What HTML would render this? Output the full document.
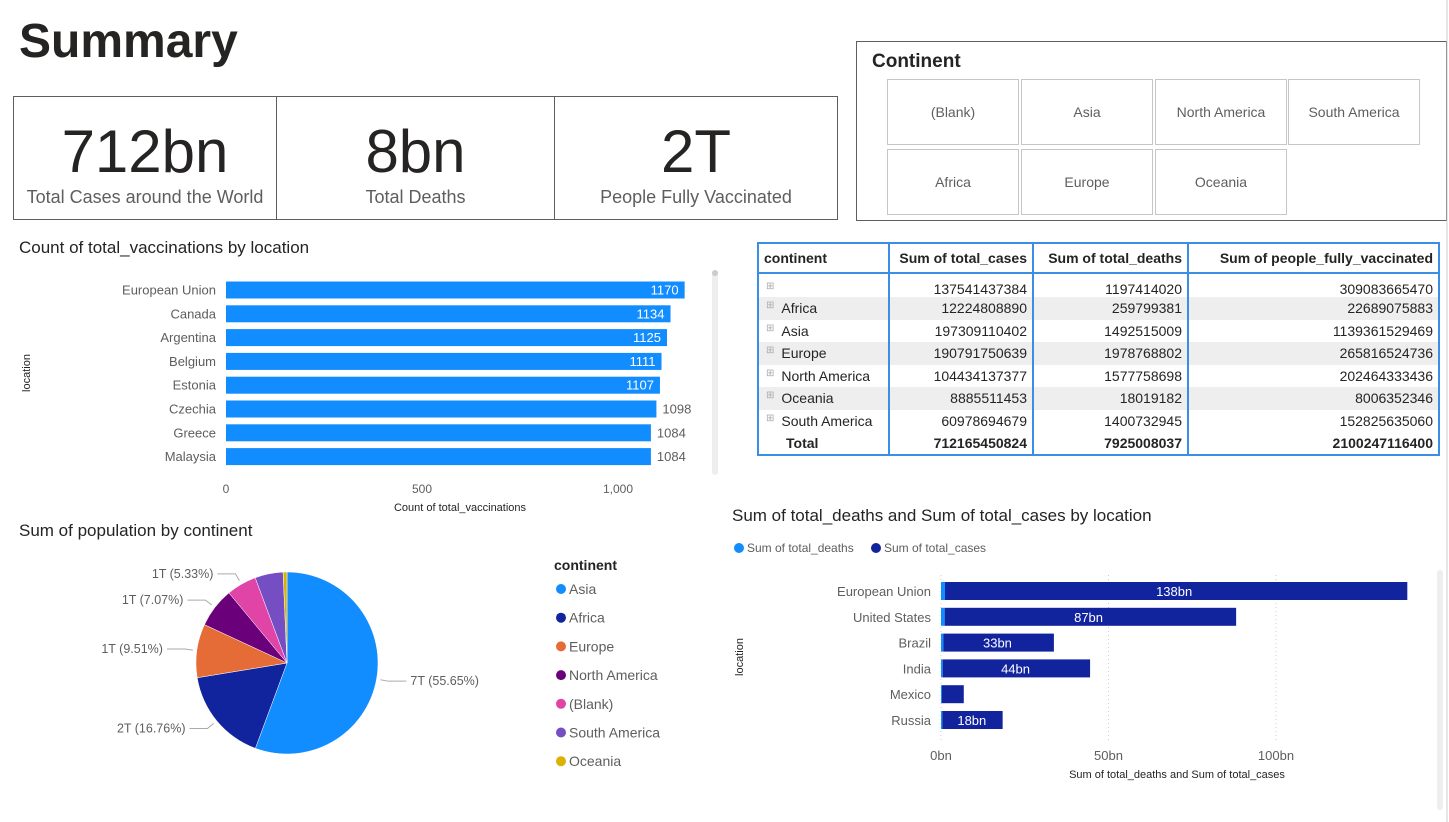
<!DOCTYPE html>
<html><head><meta charset="utf-8"><style>
body{margin:0;width:1449px;height:822px;background:#fff;font-family:"Liberation Sans",sans-serif;position:relative;overflow:hidden;color:#252423}
.a{position:absolute}
.card{position:absolute;border:1px solid #605e5c;box-sizing:border-box;text-align:center}
.big{font-size:60px;margin-top:22px;line-height:66px;color:#252423}
.sub{font-size:18px;color:#605e5c;margin-top:2px}
.slc{position:absolute;border:1px solid #c8c6c4;box-sizing:border-box;width:132px;height:66px;font-size:14px;color:#605e5c;display:flex;align-items:center;justify-content:center}
.title{font-size:17px;color:#252423}
table{border-collapse:collapse;font-size:14px;table-layout:fixed}
td{box-sizing:border-box;overflow:hidden;white-space:nowrap;padding-top:0;padding-bottom:0}
</style></head><body>
<div class="a" style="left:19px;top:14px;font-size:48px;font-weight:bold">Summary</div>
<div class="card" style="left:13px;top:96px;width:264px;height:124px"><div class="big">712bn</div><div class="sub">Total Cases around the World</div></div>
<div class="card" style="left:276px;top:96px;width:279px;height:124px"><div class="big">8bn</div><div class="sub">Total Deaths</div></div>
<div class="card" style="left:554px;top:96px;width:284px;height:124px"><div class="big">2T</div><div class="sub">People Fully Vaccinated</div></div>
<div class="a" style="left:856px;top:41px;width:591px;height:180px;border:1px solid #605e5c;box-sizing:border-box">
<div class="a" style="left:15px;top:9px;font-size:19px;font-weight:bold">Continent</div>
<div class="slc" style="left:30px;top:37px">(Blank)</div>
<div class="slc" style="left:164px;top:37px">Asia</div>
<div class="slc" style="left:298px;top:37px">North America</div>
<div class="slc" style="left:431px;top:37px">South America</div>
<div class="slc" style="left:30px;top:107px">Africa</div>
<div class="slc" style="left:164px;top:107px">Europe</div>
<div class="slc" style="left:298px;top:107px">Oceania</div>
</div>
<div class="a title" style="left:19px;top:238px">Count of total_vaccinations by location</div>
<div class="a title" style="left:19px;top:521px">Sum of population by continent</div>
<div class="a title" style="left:732px;top:506px">Sum of total_deaths and Sum of total_cases by location</div>

<div class="a" style="left:757px;top:242px">
<table style="width:681px">
<colgroup><col style="width:131px"><col style="width:144px"><col style="width:155px"><col style="width:251px"></colgroup>
<tr style="height:30px;border-bottom:2px solid #3a8ee6;font-weight:bold;border-top:2px solid #3a8ee6">
<td style="padding-left:5px;border-left:2px solid #3a8ee6;border-right:2px solid #3a8ee6">continent</td>
<td style="text-align:right;padding-right:5px;border-right:2px solid #3a8ee6">Sum of total_cases</td>
<td style="text-align:right;padding-right:5px;border-right:2px solid #3a8ee6">Sum of total_deaths</td>
<td style="text-align:right;padding-right:5px;border-right:2px solid #3a8ee6">Sum of people_fully_vaccinated</td></tr>
<tbody id="tb"></tbody>
</table></div>

<svg class="a" style="left:0;top:0" width="1449" height="822" id="svg"></svg>
<script>
const rows=[["",137541437384,1197414020,309083665470],["Africa",12224808890,259799381,22689075883],["Asia",197309110402,1492515009,1139361529469],["Europe",190791750639,1978768802,265816524736],["North America",104434137377,1577758698,202464333436],["Oceania",8885511453,18019182,8006352346],["South America",60978694679,1400732945,152825635060]];
const totals=["Total",712165450824,7925008037,2100247116400];
const tb=document.getElementById('tb');
rows.concat([totals]).forEach((r,i)=>{const tr=document.createElement('tr');


tr.style.height='22.5px';tr.style.background=(i%2==1&&i<7)?'#eeeeee':'#fff';
if(i==0){tr.style.height='24px';tr.style.verticalAlign='bottom';}
if(i==7){tr.style.fontWeight='bold';tr.style.borderBottom='2px solid #3a8ee6';}
r.forEach((v,j)=>{const td=document.createElement('td');
td.style.borderRight='2px solid #3a8ee6';if(j==0)td.style.borderLeft='2px solid #3a8ee6';
if(j==0){td.innerHTML=(i<7?'<span style="color:#aaa;font-size:10px;margin:0 7px 0 6px;vertical-align:top">⊞</span>':'<span style="display:inline-block;width:26px"></span>')+v;}
else{td.style.textAlign='right';td.style.paddingRight='5px';td.textContent=v;}
tr.appendChild(td);});tb.appendChild(tr);});

const NS='http://www.w3.org/2000/svg',svg=document.getElementById('svg');
function mk(t,at,txt){const e=document.createElementNS(NS,t);for(const k in at)e.setAttribute(k,at[k]);if(txt!==undefined)e.textContent=txt;svg.appendChild(e);return e;}

// Chart 1
const vLoc=["European Union","Canada","Argentina","Belgium","Estonia","Czechia","Greece","Malaysia"];
const vVal=[1170,1134,1125,1111,1107,1098,1084,1084];
const vTicks=[0,500,1000];const vTickLbl=["0","500","1,000"];
const vx=v=>226+v*0.392, vy=i=>290+i*23.8;
vTicks.forEach((t,i)=>{const e=mk('text',{x:vx(t),y:493,'font-size':12,fill:'#605e5c','text-anchor':'middle'},vTickLbl[i]);

});
vLoc.forEach((l,i)=>{
const r=mk('rect',{x:226,y:vy(i)-8.5,width:vx(vVal[i])-226,height:17,fill:'#118dff'});


const t=mk('text',{x:216,y:vy(i)+4.5,'font-size':13,fill:'#605e5c','text-anchor':'end'},l);


const inside=i<5;
const v=mk('text',{x:inside?vx(vVal[i])-6:vx(vVal[i])+6,y:vy(i)+4.5,'font-size':13,fill:inside?'#fff':'#605e5c','text-anchor':inside?'end':'start'},vVal[i]);

});
mk('text',{x:460,y:511,'font-size':11,fill:'#252423','text-anchor':'middle'},'Count of total_vaccinations');
mk('text',{x:30,y:373,'font-size':11,fill:'#252423','text-anchor':'middle',transform:'rotate(-90 30 373)'},'location');
mk('rect',{x:712,y:270,width:6,height:205,rx:3,fill:'#eee'});mk('rect',{x:712,y:270,width:6,height:6,rx:3,fill:'#ccc'});

// Pie
const pCat=["Asia","Africa","Europe","North America","(Blank)","South America","Oceania"];
const pVal=[55.65,16.76,9.51,7.07,5.33,5.0,0.68];
const pLbl=["7T (55.65%)","2T (16.76%)","1T (9.51%)","1T (7.07%)","1T (5.33%)","",""];
const pCol=["#118dff","#12239e","#e66c37","#6b007b","#e044a7","#744ec2","#d9b300"];
const cx=287,cy=663,R=91;let tot=pVal.reduce((a,b)=>a+b,0),acc=0;
pVal.forEach((v,i)=>{const a0=acc/tot*2*Math.PI,a1=(acc+v)/tot*2*Math.PI;acc+=v;
const p=(a)=>[cx+R*Math.sin(a),cy-R*Math.cos(a)];const[x0,y0]=p(a0),[x1,y1]=p(a1);
const s=mk('path',{d:`M${cx},${cy}L${x0},${y0}A${R},${R} 0 ${a1-a0>Math.PI?1:0} 1 ${x1},${y1}Z`,fill:pCol[i],stroke:'#fff','stroke-width':0.5});


if(pLbl[i]){const am=(a0+a1)/2;const[ex,ey]=[cx+(R+4)*Math.sin(am),cy-(R+4)*Math.cos(am)];const[mx,my]=[cx+(R+12)*Math.sin(am),cy-(R+12)*Math.cos(am)];
const right=Math.sin(am)>0;const lx=right?mx+18:mx-18;
mk('polyline',{points:`${ex},${ey} ${mx},${my} ${lx},${my}`,fill:'none',stroke:'#aaa'});
const t=mk('text',{x:right?lx+4:lx-4,y:my+4,'font-size':12.5,fill:'#605e5c','text-anchor':right?'start':'end'},pLbl[i]);

}});
mk('text',{x:554,y:570,'font-size':14,'font-weight':'bold',fill:'#252423'},'continent');
pCat.forEach((c,i)=>{const y=589+i*28.7;mk('circle',{cx:561,cy:y,r:5,fill:pCol[i]});
const t=mk('text',{x:569,y:y+5,'font-size':14,fill:'#605e5c'},c);

});

// Chart 3
const cLoc=["European Union","United States","Brazil","India","Mexico","Russia"];
const cDeaths=[1.2,1.1,0.7,0.5,0.3,0.4];
const cCases=[138,87,33,44,6.5,18];
const cLbl=["138bn","87bn","33bn","44bn","","18bn"];
const cTicks=[0,50,100];const cTickLbl=["0bn","50bn","100bn"];
const cx3=v=>941+v*3.35, cy3=i=>591+i*25.8;
cTicks.forEach((t,i)=>{mk('line',{x1:cx3(t),x2:cx3(t),y1:575,y2:740,stroke:'#ccc','stroke-dasharray':'1,3'});
const e=mk('text',{x:cx3(t),y:760,'font-size':13,fill:'#605e5c','text-anchor':'middle'},cTickLbl[i]);

});
cLoc.forEach((l,i)=>{const y=cy3(i);
const d=mk('rect',{x:cx3(0),y:y-9,width:cx3(cDeaths[i])-cx3(0),height:18,fill:'#118dff'});


const c=mk('rect',{x:cx3(cDeaths[i]),y:y-9,width:cx3(cCases[i])-cx3(0),height:18,fill:'#12239e'});


const t=mk('text',{x:931,y:y+5,'font-size':13,fill:'#605e5c','text-anchor':'end'},l);


if(cLbl[i]){const v=mk('text',{x:(cx3(0)+cx3(cCases[i]+cDeaths[i]))/2,y:y+5,'font-size':13,fill:'#fff','text-anchor':'middle'},cLbl[i]);

}});
mk('text',{x:1177,y:778,'font-size':11,fill:'#252423','text-anchor':'middle'},'Sum of total_deaths and Sum of total_cases');
mk('text',{x:743,y:657,'font-size':11,fill:'#252423','text-anchor':'middle',transform:'rotate(-90 743 657)'},'location');
mk('circle',{cx:739,cy:548,r:5,fill:'#118dff'});mk('text',{x:747,y:552,'font-size':12,fill:'#605e5c'},'Sum of total_deaths');
mk('circle',{cx:876,cy:548,r:5,fill:'#12239e'});mk('text',{x:884,y:552,'font-size':12,fill:'#605e5c'},'Sum of total_cases');
mk('rect',{x:1437,y:570,width:6,height:240,rx:3,fill:'#eee'});
mk('line',{x1:1447,x2:1447,y1:0,y2:822,stroke:'#ccc'});
</script>
</body></html>
